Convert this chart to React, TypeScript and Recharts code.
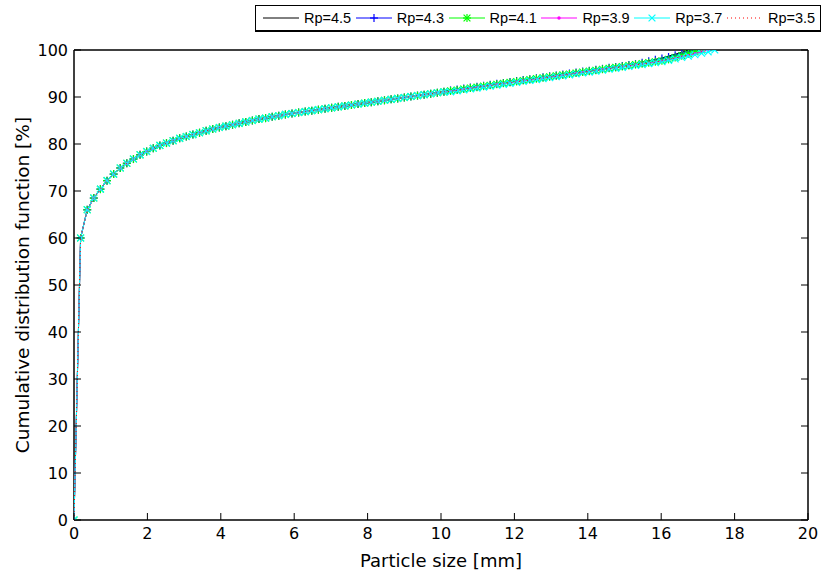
import React from "react";
import { ScatterChart, Scatter, XAxis, YAxis, Legend } from "recharts";

const FONT = "'DejaVu Sans', 'Liberation Sans', sans-serif";
const LEGEND_FONT = "'Liberation Sans', Arial, sans-serif";

// particle size grid [mm]
const sizes = [
  0, 0.18, 0.36, 0.54, 0.72, 0.9, 1.08, 1.26, 1.44, 1.62,
  1.8, 1.98, 2.16, 2.34, 2.52, 2.7, 2.88, 3.06, 3.24, 3.42,
  3.6, 3.78, 3.96, 4.14, 4.32, 4.5, 4.68, 4.86, 5.04, 5.22,
  5.4, 5.58, 5.76, 5.94, 6.12, 6.3, 6.48, 6.66, 6.84, 7.02,
  7.2, 7.38, 7.56, 7.74, 7.92, 8.1, 8.28, 8.46, 8.64, 8.82,
  9.0, 9.18, 9.36, 9.54, 9.72, 9.9, 10.08, 10.26, 10.44, 10.62,
  10.8, 10.98, 11.16, 11.34, 11.52, 11.7, 11.88, 12.06, 12.24, 12.42,
  12.6, 12.78, 12.96, 13.14, 13.32, 13.5, 13.68, 13.86, 14.04, 14.22,
  14.4, 14.58, 14.76, 14.94, 15.12, 15.3, 15.48, 15.66, 15.84, 16.02,
  16.2, 16.38, 16.56, 16.74, 16.92, 17.1, 17.28, 17.46,
];

// common part of the curves (all Rp overlap here), up to 10.08 mm
const cdfHead = [
  0, 60.0, 66.0, 68.5, 70.4, 72.2, 73.6, 74.9, 75.9, 76.8,
  77.7, 78.4, 79.1, 79.7, 80.2, 80.7, 81.2, 81.6, 82.0, 82.4,
  82.8, 83.2, 83.5, 83.8, 84.1, 84.4, 84.7, 85.0, 85.3, 85.5,
  85.8, 86.0, 86.3, 86.5, 86.7, 86.9, 87.1, 87.3, 87.5, 87.7,
  87.9, 88.1, 88.3, 88.5, 88.7, 88.9, 89.1, 89.3, 89.5, 89.7,
  89.9, 90.1, 90.3, 90.5, 90.7, 90.9, 91.1,
];

// from 10.26 mm onwards
const tail45 = [
  91.4, 91.6, 91.8, 92.0, 92.2, 92.4, 92.6, 92.8, 93.0, 93.2,
  93.4, 93.6, 93.8, 94.0, 94.2, 94.4, 94.6, 94.8, 95.0, 95.2,
  95.4, 95.6, 95.8, 96.0, 96.2, 96.4, 96.7, 96.9, 97.1, 97.4,
  97.7, 98.0, 98.3, 98.7, 99.1, 99.5, 100,
];
const tail43 = [
  91.4, 91.6, 91.8, 92.0, 92.2, 92.4, 92.6, 92.8, 93.0, 93.2,
  93.4, 93.6, 93.8, 94.0, 94.2, 94.4, 94.6, 94.8, 95.0, 95.2,
  95.4, 95.6, 95.8, 96.0, 96.2, 96.4, 96.6, 96.8, 97.0, 97.3,
  97.6, 97.9, 98.2, 98.5, 98.9, 99.3, 99.6, 100,
];
const tail41 = [
  91.3, 91.5, 91.7, 91.9, 92.1, 92.3, 92.5, 92.7, 92.9, 93.1,
  93.3, 93.5, 93.7, 93.9, 94.1, 94.3, 94.5, 94.7, 94.9, 95.1,
  95.3, 95.5, 95.7, 95.9, 96.1, 96.3, 96.5, 96.7, 96.9, 97.1,
  97.3, 97.5, 97.7, 98.0, 98.4, 98.8, 99.2, 99.6, 100,
];
const tail39 = [
  91.2, 91.4, 91.6, 91.8, 92.0, 92.2, 92.4, 92.6, 92.8, 93.0,
  93.2, 93.4, 93.6, 93.8, 94.0, 94.2, 94.4, 94.6, 94.8, 95.0,
  95.2, 95.4, 95.6, 95.8, 96.0, 96.2, 96.4, 96.6, 96.8, 97.0,
  97.2, 97.4, 97.6, 97.9, 98.2, 98.5, 98.8, 99.2, 99.6, 100,
];
const tail37 = [
  91.1, 91.3, 91.5, 91.7, 91.9, 92.1, 92.3, 92.5, 92.7, 92.9,
  93.1, 93.3, 93.5, 93.7, 93.9, 94.1, 94.3, 94.5, 94.7, 94.9,
  95.1, 95.3, 95.5, 95.7, 95.9, 96.1, 96.3, 96.5, 96.7, 96.9,
  97.1, 97.3, 97.5, 97.8, 98.1, 98.4, 98.7, 99.0, 99.3, 99.6, 100,
];
const tail35 = [
  91.2, 91.4, 91.6, 91.8, 92.0, 92.2, 92.4, 92.6, 92.8, 93.0,
  93.2, 93.4, 93.6, 93.8, 94.0, 94.2, 94.4, 94.6, 94.8, 95.0,
  95.2, 95.4, 95.6, 95.8, 96.0, 96.2, 96.4, 96.6, 96.8, 97.0,
  97.2, 97.4, 97.7, 98.0, 98.3, 98.6, 98.9, 99.3, 99.6, 100,
];

const xTicks = [0, 2, 4, 6, 8, 10, 12, 14, 16, 18, 20];
const yTicks = [0, 10, 20, 30, 40, 50, 60, 70, 80, 90, 100];

type MarkType = "none" | "plus" | "star" | "dot" | "cross";

const series: { name: string; color: string; mark: MarkType; dash?: string; tail: number[] }[] = [
  { name: "Rp=4.5", color: "#000000", mark: "none", tail: tail45 },
  { name: "Rp=4.3", color: "#0000ff", mark: "plus", tail: tail43 },
  { name: "Rp=4.1", color: "#00ff00", mark: "star", tail: tail41 },
  { name: "Rp=3.9", color: "#ff00ff", mark: "dot", tail: tail39 },
  { name: "Rp=3.7", color: "#00ffff", mark: "cross", tail: tail37 },
  { name: "Rp=3.5", color: "#ff0000", mark: "none", dash: "1 3", tail: tail35 },
];

const toPoints = (tail: number[]) =>
  [...cdfHead, ...tail].map((y, i) => ({ x: sizes[i], y }));

const Mark = ({ type, cx, cy, color }: { type: MarkType; cx: number; cy: number; color: string }) => {
  const r = 4;
  const plus = (
    <>
      <line x1={cx - r} x2={cx + r} y1={cy} y2={cy} />
      <line x1={cx} x2={cx} y1={cy - r} y2={cy + r} />
    </>
  );
  const cross = (
    <>
      <line x1={cx - r * 0.85} x2={cx + r * 0.85} y1={cy - r * 0.85} y2={cy + r * 0.85} />
      <line x1={cx - r * 0.85} x2={cx + r * 0.85} y1={cy + r * 0.85} y2={cy - r * 0.85} />
    </>
  );
  if (type === "plus") return <g stroke={color} strokeWidth={1.2}>{plus}</g>;
  if (type === "cross") return <g stroke={color} strokeWidth={1.2}>{cross}</g>;
  if (type === "star") return <g stroke={color} strokeWidth={1.2}>{plus}{cross}</g>;
  if (type === "dot") return <circle cx={cx} cy={cy} r={1.7} fill={color} />;
  return <g />;
};

const AXIS = "#000";

const BottomTick = ({ x, y, payload }: any) => (
  <g>
    <line x1={x} x2={x} y1={y} y2={y - 7} stroke={AXIS} />
    <text x={x} y={y + 19} textAnchor="middle" fontFamily={FONT} fontSize={16} fill="#000">
      {payload.value}
    </text>
  </g>
);

const LeftTick = ({ x, y, payload }: any) => (
  <g>
    <line x1={x} x2={x + 7} y1={y} y2={y} stroke={AXIS} />
    <text x={x - 6} y={y + 6} textAnchor="end" fontFamily={FONT} fontSize={16} fill="#000">
      {payload.value}
    </text>
  </g>
);

const LegendBox = () => (
  <div
    style={{
      display: "flex",
      alignItems: "center",
      height: "100%",
      boxSizing: "border-box",
      border: "1px solid #000",
      borderBottomWidth: 2,
      paddingLeft: 7,
      background: "#fff",
      fontFamily: LEGEND_FONT,
      fontSize: 14.5,
      color: "#000",
    }}
  >
    {series.map((s) => (
      <div key={s.name} style={{ display: "flex", alignItems: "center", width: 92.8, flex: "none" }}>
        <svg width={36} height={12} style={{ display: "block" }}>
          <line x1={0} x2={36} y1={6} y2={6} stroke={s.color} strokeDasharray={s.dash} />
          <Mark type={s.mark} cx={18} cy={6} color={s.color} />
        </svg>
        <span style={{ marginLeft: 5, whiteSpace: "nowrap" }}>{s.name}</span>
      </div>
    ))}
  </div>
);

export default function App() {
  return (
    <div style={{ position: "absolute", left: 0, top: 0, background: "#fff" }}>
      <ScatterChart width={825} height={576} margin={{ top: 50, right: 17, bottom: 0, left: 0 }}>
        <XAxis
          type="number"
          dataKey="x"
          domain={[0, 20]}
          ticks={xTicks}
          interval={0}
          allowDataOverflow
          height={56}
          tickSize={0}
          tickMargin={0}
          tickLine={false}
          axisLine={{ stroke: AXIS, strokeWidth: 1.5 }}
          tick={<BottomTick />}
          label={{
            value: "Particle size [mm]",
            position: "insideBottom",
            offset: 9,
            fill: "#000",
            fontSize: 18,
            fontFamily: FONT,
          }}
        />
        <XAxis
          xAxisId="top"
          orientation="top"
          mirror
          type="number"
          domain={[0, 20]}
          ticks={xTicks}
          interval={0}
          allowDataOverflow
          tickSize={7}
          tickLine={{ stroke: AXIS }}
          axisLine={{ stroke: AXIS, strokeWidth: 1.5 }}
          tick={() => <g />}
        />
        <YAxis
          type="number"
          dataKey="y"
          domain={[0, 100]}
          ticks={yTicks}
          interval={0}
          allowDataOverflow
          width={74}
          tickSize={0}
          tickMargin={0}
          tickLine={false}
          axisLine={{ stroke: AXIS, strokeWidth: 1.5 }}
          tick={<LeftTick />}
          label={{
            value: "Cumulative distribution function [%]",
            angle: -90,
            position: "insideLeft",
            offset: 22,
            fill: "#000",
            fontSize: 18.5,
            fontFamily: FONT,
            style: { textAnchor: "middle" },
          }}
        />
        <YAxis
          yAxisId="right"
          orientation="right"
          mirror
          type="number"
          domain={[0, 100]}
          ticks={yTicks}
          interval={0}
          allowDataOverflow
          tickSize={7}
          tickLine={{ stroke: AXIS }}
          axisLine={{ stroke: AXIS, strokeWidth: 1.5 }}
          tick={() => <g />}
        />
        {series.map((s) => (
          <Scatter
            key={s.name}
            name={s.name}
            data={toPoints(s.tail)}
            fill={s.color}
            line={{ stroke: s.color, strokeWidth: 1, strokeDasharray: s.dash }}
            lineType="joint"
            shape={(p: any) => <Mark type={s.mark} cx={p.cx} cy={p.cy} color={s.color} />}
            isAnimationActive={false}
          />
        ))}
        <Legend
          verticalAlign="middle"
          align="center"
          content={<LegendBox />}
          wrapperStyle={{ left: 255, top: 5, width: 566, height: 27 }}
        />
      </ScatterChart>
    </div>
  );
}
